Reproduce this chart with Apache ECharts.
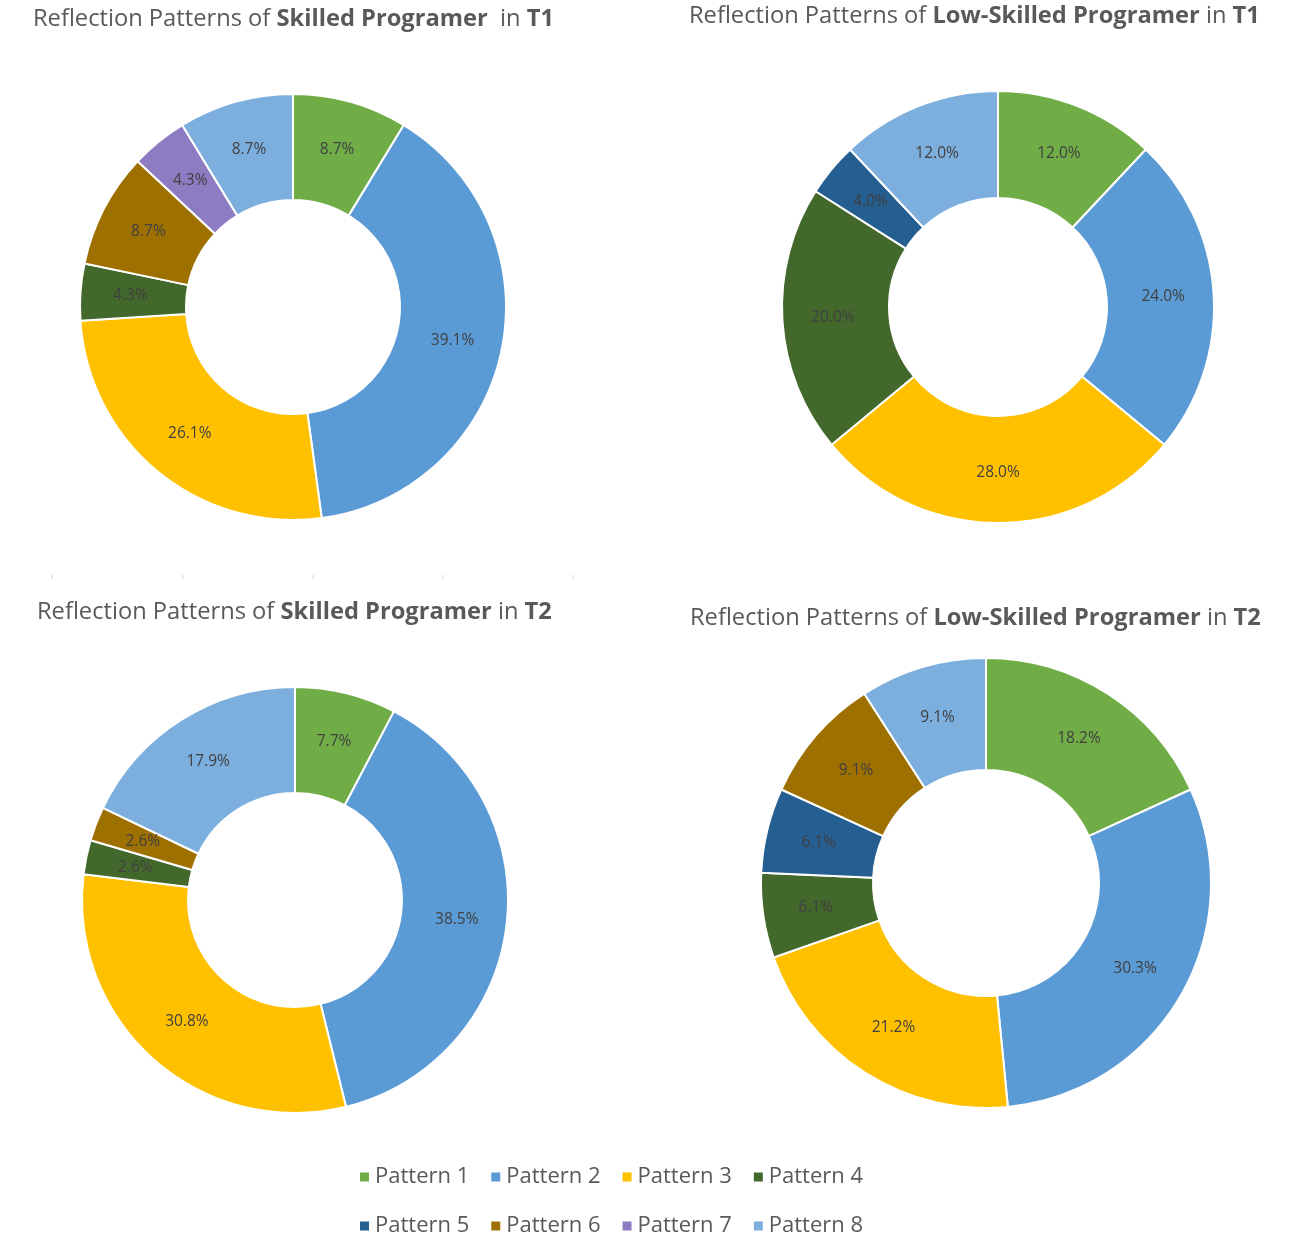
<!DOCTYPE html>
<html>
<head>
<meta charset="utf-8">
<script src="https://cdn.jsdelivr.net/npm/echarts@6/dist/echarts.min.js"></script>
<style>
  html, body { margin: 0; padding: 0; background: #fff; }
  #chart { width: 1308px; height: 1246px; }
</style>
</head>
<body>
<div id="chart"></div>
<script>
const patterns = ['Pattern 1', 'Pattern 2', 'Pattern 3', 'Pattern 4', 'Pattern 5', 'Pattern 6', 'Pattern 7', 'Pattern 8'];
const patternColors = ['#70AD47', '#5B9BD5', '#FFC000', '#43682B', '#255E91', '#9E7000', '#8E7CC3', '#7CAFDD'];

// percentages read off each donut, in pattern order (0 = not present)
const skilledT1 = [8.7, 39.1, 26.1, 4.3, 0, 8.7, 4.3, 8.7];
const lowSkilledT1 = [12.0, 24.0, 28.0, 20.0, 4.0, 0, 0, 12.0];
const skilledT2 = [7.7, 38.5, 30.8, 2.6, 0, 2.6, 0, 17.9];
const lowSkilledT2 = [18.2, 30.3, 21.2, 6.1, 6.1, 9.1, 0, 9.1];

const fontName = 'Open Sans';
const titleSize = 23.7;

function pieData(vals) {
  let out = [];
  vals.forEach((v, i) => {
    if (v > 0) out.push({ name: patterns[i], value: v, itemStyle: { color: patternColors[i] } });
  });
  return out;
}

function makeTitle(group, time, left, top) {
  return {
    text: 'Reflection Patterns of {b|' + group + '}' + (group == 'Skilled Programer' && time == 'T1' ? '  ' : ' ') + 'in {b|' + time + '}',
    left: left,
    top: top,
    padding: 0,
    textStyle: {
      fontFamily: fontName,
      fontSize: titleSize,
      fontWeight: 'normal',
      color: '#595959',
      rich: {
        b: { fontFamily: fontName, fontSize: titleSize, fontWeight: 'bold', color: '#595959' }
      }
    }
  };
}

function makePie(vals, center, radius) {
  return {
    type: 'pie',
    center: center,
    radius: radius,
    startAngle: 90,
    clockwise: true,
    avoidLabelOverlap: false,
    itemStyle: { borderColor: '#fff', borderWidth: 2 },
    label: {
      show: true,
      position: 'inside',
      color: '#404040',
      fontFamily: fontName,
      fontSize: 15.5,
      formatter: p => p.value.toFixed(1) + '%'
    },
    labelLine: { show: false },
    emphasis: { scale: false },
    data: pieData(vals)
  };
}

const legendText = { fontFamily: fontName, fontSize: 22, color: '#595959' };

let option = {
  backgroundColor: '#fff',
  animation: false,
  title: [
    makeTitle('Skilled Programer', 'T1', 33, 7),
    makeTitle('Low-Skilled Programer', 'T1', 689, 4),
    makeTitle('Skilled Programer', 'T2', 37, 600),
    makeTitle('Low-Skilled Programer', 'T2', 690, 606)
  ],
  legend: [{
    data: patterns.slice(0, 4),
    left: 358, top: 1166, padding: 0,
    icon: 'rect', itemWidth: 11, itemHeight: 11, itemGap: 20,
    textStyle: legendText
  }, {
    data: patterns.slice(4),
    left: 358, top: 1215, padding: 0,
    icon: 'rect', itemWidth: 11, itemHeight: 11, itemGap: 20,
    textStyle: legendText
  }],
  graphic: [52, 183, 313, 443, 573].map(x => ({
    type: 'line',
    shape: { x1: x, y1: 575, x2: x, y2: 579 },
    style: { stroke: '#d0d0d0', lineWidth: 1 }
  })),
  series: [
    makePie(skilledT1, [293, 307], [107, 213]),
    makePie(lowSkilledT1, [998, 307], [109, 216]),
    makePie(skilledT2, [295, 900], [107, 213]),
    makePie(lowSkilledT2, [986, 883], [113, 225])
  ]
};

const myChart = echarts.init(document.getElementById('chart'));
myChart.setOption(option);
</script>
</body>
</html>
